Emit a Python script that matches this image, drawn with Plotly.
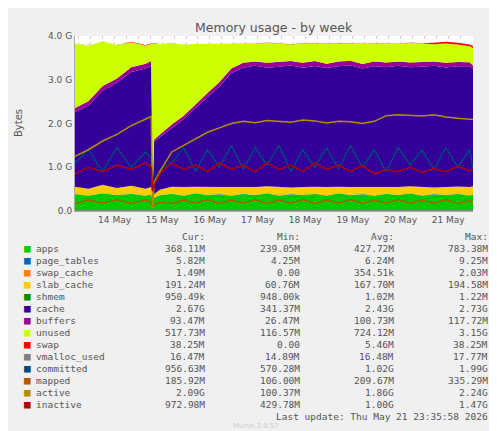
import plotly.graph_objects as go

t = [13.67,13.95,14.25,14.55,14.85,15.15,15.27,15.30,15.33,15.45,15.70,15.95,16.20,16.45,16.70,16.95,17.20,17.45,17.70,17.95,18.20,18.45,18.70,18.95,19.20,19.45,19.70,19.95,20.20,20.45,20.70,20.95,21.20,21.45,21.70,21.95,22.02]

apps = [0.38,0.35,0.40,0.36,0.39,0.35,0.37,0.24,0.30,0.36,0.39,0.35,0.40,0.36,0.38,0.35,0.39,0.36,0.40,0.35,0.38,0.36,0.39,0.35,0.40,0.36,0.38,0.35,0.39,0.36,0.40,0.35,0.38,0.36,0.39,0.35,0.37]
page_tables = [0.006,0.006,0.007,0.006,0.006,0.007,0.006,0.004,0.005,0.006,0.006,0.007,0.006,0.006,0.007,0.006,0.006,0.007,0.006,0.006,0.007,0.006,0.006,0.007,0.006,0.006,0.007,0.006,0.006,0.007,0.006,0.006,0.007,0.006,0.006,0.006,0.006]
swap_cache = [0.0,0.0,0.0,0.0,0.0,0.0,0.0,0.0,0.0,0.0,0.0,0.0,0.0,0.0,0.0,0.0,0.0,0.0,0.0,0.0,0.0,0.0,0.0,0.0,0.0,0.0,0.0,0.0,0.0,0.0,0.0,0.0,0.001,0.002,0.001,0.0015,0.0015]
slab_cache = [0.17,0.15,0.19,0.16,0.18,0.15,0.17,0.06,0.08,0.12,0.16,0.19,0.15,0.18,0.16,0.19,0.15,0.18,0.16,0.19,0.15,0.18,0.16,0.19,0.15,0.18,0.16,0.19,0.15,0.18,0.16,0.19,0.15,0.18,0.16,0.19,0.19]
shmem = [0.001,0.001,0.001,0.001,0.001,0.001,0.001,0.001,0.001,0.001,0.001,0.001,0.001,0.001,0.001,0.001,0.001,0.001,0.001,0.001,0.001,0.001,0.001,0.001,0.001,0.001,0.001,0.001,0.001,0.001,0.001,0.001,0.001,0.001,0.001,0.001,0.001]
cache = [1.70,1.90,2.15,2.40,2.60,2.75,2.77,0.12,1.20,1.20,1.35,1.55,1.80,2.05,2.30,2.60,2.73,2.77,2.71,2.75,2.79,2.73,2.76,2.72,2.75,2.78,2.71,2.76,2.74,2.77,2.72,2.75,2.78,2.73,2.75,2.76,2.67]
buffers = [0.10,0.10,0.11,0.10,0.11,0.11,0.11,0.03,0.05,0.06,0.07,0.08,0.09,0.10,0.10,0.11,0.11,0.10,0.11,0.11,0.10,0.11,0.11,0.10,0.11,0.11,0.10,0.11,0.11,0.10,0.11,0.11,0.10,0.11,0.10,0.09,0.09]
unused = [1.47,1.27,1.02,0.77,0.57,0.41,0.39,3.37,2.20,2.07,1.87,1.62,1.37,1.12,0.87,0.57,0.44,0.40,0.46,0.42,0.38,0.44,0.41,0.45,0.42,0.39,0.46,0.41,0.43,0.40,0.45,0.42,0.39,0.44,0.40,0.37,0.40]
swap = [0.0,0.0,0.0,0.0,0.01,0.01,0.01,0.0,0.0,0.0,0.0,0.0,0.0,0.0,0.0,0.0,0.005,0.005,0.005,0.005,0.005,0.005,0.005,0.005,0.005,0.005,0.005,0.005,0.005,0.005,0.005,0.005,0.038,0.038,0.038,0.038,0.038]

vmalloc_used = [0.016,0.016,0.016,0.016,0.017,0.016,0.016,0.015,0.016,0.016,0.016,0.016,0.017,0.016,0.016,0.016,0.016,0.017,0.016,0.016,0.016,0.016,0.017,0.016,0.016,0.016,0.016,0.017,0.016,0.016,0.016,0.016,0.017,0.016,0.016,0.016,0.016]
committed = [1.10,1.40,0.90,1.45,1.00,1.35,1.20,0.60,0.70,0.95,1.10,1.45,0.90,1.40,1.00,1.50,0.95,1.45,1.05,1.50,0.90,1.40,1.00,1.45,0.95,1.50,1.00,1.40,0.90,1.45,1.05,1.40,0.95,1.45,1.00,1.40,0.96]
mapped = [0.17,0.25,0.18,0.26,0.17,0.25,0.20,0.11,0.15,0.20,0.17,0.25,0.18,0.26,0.17,0.25,0.18,0.26,0.17,0.25,0.18,0.26,0.17,0.25,0.18,0.26,0.17,0.25,0.18,0.26,0.17,0.25,0.18,0.26,0.17,0.24,0.19]
active = [1.25,1.40,1.60,1.75,1.95,2.10,2.16,0.10,0.65,0.90,1.35,1.50,1.65,1.80,1.90,2.00,2.05,2.02,2.07,2.05,2.03,2.08,2.06,2.01,2.05,2.04,2.00,2.05,2.18,2.20,2.19,2.17,2.20,2.15,2.12,2.09,2.09]
inactive = [0.85,1.00,0.90,1.05,0.95,1.10,1.00,0.45,0.60,0.85,1.10,0.95,1.05,0.90,1.10,0.95,1.05,0.90,1.10,0.95,1.05,0.90,1.10,0.95,1.05,0.90,1.05,0.85,0.95,0.90,1.00,0.88,0.97,0.90,1.02,0.92,0.97]

day_ticks = [14.5,15.5,16.5,17.5,18.5,19.5,20.5,21.5]
day_labels = ["14 May","15 May","16 May","17 May","18 May","19 May","20 May","21 May"]
y_ticks = [0,1,2,3,4]
y_labels = ["0.0","1.0 G","2.0 G","3.0 G","4.0 G"]

names = ["apps","page_tables","swap_cache","slab_cache","shmem","cache","buffers","unused","swap",
         "vmalloc_used","committed","mapped","active","inactive"]
colors = ["#00CC00","#0066B3","#FF8000","#FFCC00","#008F00","#330099","#990099","#CCFF00","#FF0000",
          "#808080","#00487D","#B35A00","#B38F00","#B30000"]
cur = ["368.11M","5.82M","1.49M","191.24M","950.49k","2.67G","93.47M","517.73M","38.25M","16.47M","956.63M","185.92M","2.09G","972.98M"]
mn = ["239.05M","4.25M","0.00","60.76M","948.00k","341.37M","26.47M","116.57M","0.00","14.89M","570.28M","106.00M","100.37M","429.78M"]
avg = ["427.72M","6.24M","354.51k","167.70M","1.02M","2.43G","100.73M","724.12M","5.46M","16.48M","1.02G","209.67M","1.86G","1.00G"]
mx = ["783.38M","9.25M","2.03M","194.58M","1.22M","2.73G","117.72M","3.15G","38.25M","17.77M","1.99G","335.29M","2.24G","1.47G"]

stacked = [apps,page_tables,swap_cache,slab_cache,shmem,cache,buffers,unused,swap]
lines = [vmalloc_used,committed,mapped,active,inactive]

fig = go.Figure()
for i, s in enumerate(stacked):
    fig.add_trace(go.Scatter(x=t, y=s, stackgroup="a", mode="lines", line=dict(width=0, color=colors[i]),
                             fillcolor=colors[i], showlegend=False))
for j, s in enumerate(lines):
    fig.add_trace(go.Scatter(x=t, y=s, mode="lines", line=dict(color=colors[9+j], width=1.5), showlegend=False))

mono = "DejaVu Sans Mono"
ann = []
for lbl, xr in [("Cur:",199),("Min:",294),("Avg:",388),("Max:",482)]:
    ann.append(dict(text=lbl, x=xr, y=228))
for i, n in enumerate(names):
    yy = 240 + i*12
    ann.append(dict(text="■", x=14, y=yy, color=colors[i], left=True, size=11))
    ann.append(dict(text=n, x=26, y=yy, left=True))
    for col, xr in [(cur,199),(mn,294),(avg,388),(mx,482)]:
        ann.append(dict(text=col[i], x=xr, y=yy))
ann.append(dict(text="Last update: Thu May 21 23:35:58 2026", x=482, y=408))

W, H = 497, 431
annotations = []
for a in ann:
    annotations.append(dict(text=a["text"], xref="paper", yref="paper",
                            x=(a["x"]-67)/(465-67), y=(203-a["y"])/(203-28),
                            xanchor="left" if a.get("left") else "right", yanchor="middle", showarrow=False,
                            font=dict(family=mono, size=a.get("size", 9.5), color=a.get("color", "#555555"))))
annotations.append(dict(text="Memory usage - by week", xref="paper", yref="paper", x=0.5, y=(203-19)/175,
                        xanchor="center", yanchor="middle", showarrow=False,
                        font=dict(family="DejaVu Sans", size=12.5, color="#555555")))
annotations.append(dict(text="Munin 2.0.57", xref="paper", yref="paper", x=(248-67)/398, y=(203-418)/175,
                        xanchor="center", yanchor="middle", showarrow=False,
                        font=dict(family="DejaVu Sans", size=7, color="#cccccc")))
annotations.append(dict(text="RRDTOOL / TOBI OETIKER", xref="paper", yref="paper", x=(484-67)/398, y=(203-55)/175,
                        xanchor="center", yanchor="middle", showarrow=False, textangle=90,
                        font=dict(family="DejaVu Sans", size=6.5, color="#bbbbbb")))
annotations.append(dict(text="Bytes", xref="paper", yref="paper", x=(10-67)/398, y=(203-115)/175,
                        xanchor="center", yanchor="middle", showarrow=False, textangle=-90,
                        font=dict(family="DejaVu Sans", size=10, color="#555555")))

grid = "rgba(230,140,140,0.55)"
fig.update_layout(
    width=W, height=H, margin=dict(l=67, r=32, t=28, b=228),
    paper_bgcolor="#F0F0F0", plot_bgcolor="#FFFFFF",
    annotations=annotations,
    xaxis=dict(range=[13.67, 22.02], tickvals=day_ticks, ticktext=day_labels, showgrid=False,
               tickfont=dict(family="DejaVu Sans", size=9, color="#555555"), zeroline=False,
               ticks="", showline=True, linecolor="#aaaaaa",
               minor=dict(tick0=13.0, dtick=0.25, showgrid=True, gridcolor=grid, griddash="dot", gridwidth=1)),
    yaxis=dict(range=[0, 4], tickvals=y_ticks, ticktext=y_labels, showgrid=True,
               gridcolor=grid, griddash="dot", gridwidth=1,
               tickfont=dict(family="DejaVu Sans", size=9, color="#555555"), zeroline=False,
               ticks="", showline=True, linecolor="#aaaaaa",
               minor=dict(tick0=0, dtick=0.2, showgrid=True, gridcolor=grid, griddash="dot", gridwidth=1)),
)
fig.write_html("out.html")
